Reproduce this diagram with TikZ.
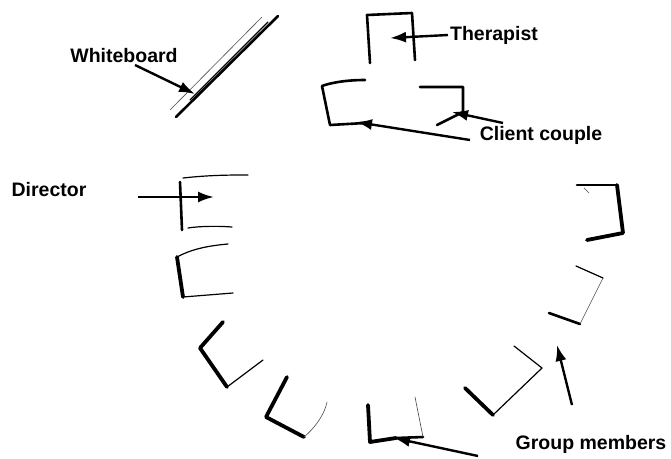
\documentclass[tikz,border=0pt]{standalone}
\usepackage{fontspec}
\setmainfont{Liberation Sans}
\usetikzlibrary{arrows.meta}
\begin{document}
\begin{tikzpicture}[x=1pt,y=-1pt,
  lbl/.style={font=\fontsize{19.5}{21}\selectfont\bfseries, inner sep=0pt},
  ptr/.style={line width=2.4pt, -{Latex[length=16pt,width=11pt]}},
  thick chair/.style={line width=3.8pt, line cap=round, line join=round},
  mid chair/.style={line width=2.6pt, line cap=round, line join=round},
  thin chair/.style={line width=1.2pt, line cap=round, line join=round},
  hair/.style={line width=0.6pt, line cap=round, gray!60!black}]
\useasboundingbox (0,0) rectangle (671,458);

% labels
\node[lbl] (wb) at (124,56) {Whiteboard};
\node[lbl] (th) at (494,35) {Therapist};
\node[lbl] (cc) at (541,135) {Client couple};
\node[lbl] (di) at (49,190) {Director};
\node[lbl] (gm) at (591,444) {Group members};

% whiteboard
\draw[hair] (262,17) -- (170,110);
\draw[thin chair] (268,22) -- (190,100);
\draw[mid chair] (278,16) -- (176,117);

% therapist chair
\draw[mid chair] (370,63) -- (367,15) -- (412,13) -- (415,60);

% client couple chairs
\draw[mid chair] (365,80) .. controls (345,80) and (330,83) .. (322,86) -- (330,125) -- (365,123);
\draw[mid chair] (420,87) -- (463,87) -- (463,112) -- (437,125);

% director chair and next
\draw[thin chair] (183,178) .. controls (210,175) and (230,175) .. (248,175);
\draw[mid chair] (180,182) -- (182,230);
\draw[thin chair] (188,228) .. controls (200,226) and (220,226) .. (232,227);
\draw[thin chair] (228,244) .. controls (205,246) and (190,250) .. (177,257);
\draw[thick chair] (177,257) -- (183,297);
\draw[thin chair] (183,297) -- (233,293);

% chairs along the circle
\draw[thick chair] (223,322) -- (200,348) -- (227,387);
\draw[thin chair] (227,387) -- (263,360);

\draw[thick chair] (287,377) -- (266,417) -- (304,437);
\draw[hair] (304,437) .. controls (318,425) and (325,412) .. (327,402);

\draw[thick chair] (368,405) -- (370,442) -- (396,438);
\draw[mid chair] (396,438) -- (423,437);
\draw[hair] (423,437) -- (415,397);

\draw[thick chair] (465,388) -- (493,415);
\draw[thin chair] (493,415) -- (542,368) -- (514,346);

\draw[mid chair] (549,313) -- (580,324);
\draw[hair] (580,324) -- (603,278);
\draw[thin chair] (603,278) -- (576,266);

\draw[mid chair] (577,185) -- (617,185);
\draw[hair] (584,188) -- (589,193);
\draw[thick chair] (617,185) -- (623,233) -- (587,240);

% pointer coordinates
\coordinate (wbT) at (135,65);
\coordinate (wbH) at (195,94);
\coordinate (thT) at (448,35);
\coordinate (thH) at (390,38);
\coordinate (ccT1) at (470,140);
\coordinate (ccH1) at (356,122);
\coordinate (ccT2) at (503,123);
\coordinate (ccH2) at (452,112);
\coordinate (diT) at (138,197);
\coordinate (diH) at (214,197);
\coordinate (gmT1) at (478,456);
\coordinate (gmH1) at (394,438);
\coordinate (gmT2) at (572,405);
\coordinate (gmH2) at (557,345);

\draw[ptr] (wbT) -- (wbH);
\draw[ptr] (thT) -- (thH);
\draw[ptr] (ccT1) -- (ccH1);
\draw[ptr] (ccT2) -- (ccH2);
\draw[ptr] (diT) -- (diH);
\draw[ptr] (gmT1) -- (gmH1);
\draw[ptr] (gmT2) -- (gmH2);
\end{tikzpicture}
\end{document}
